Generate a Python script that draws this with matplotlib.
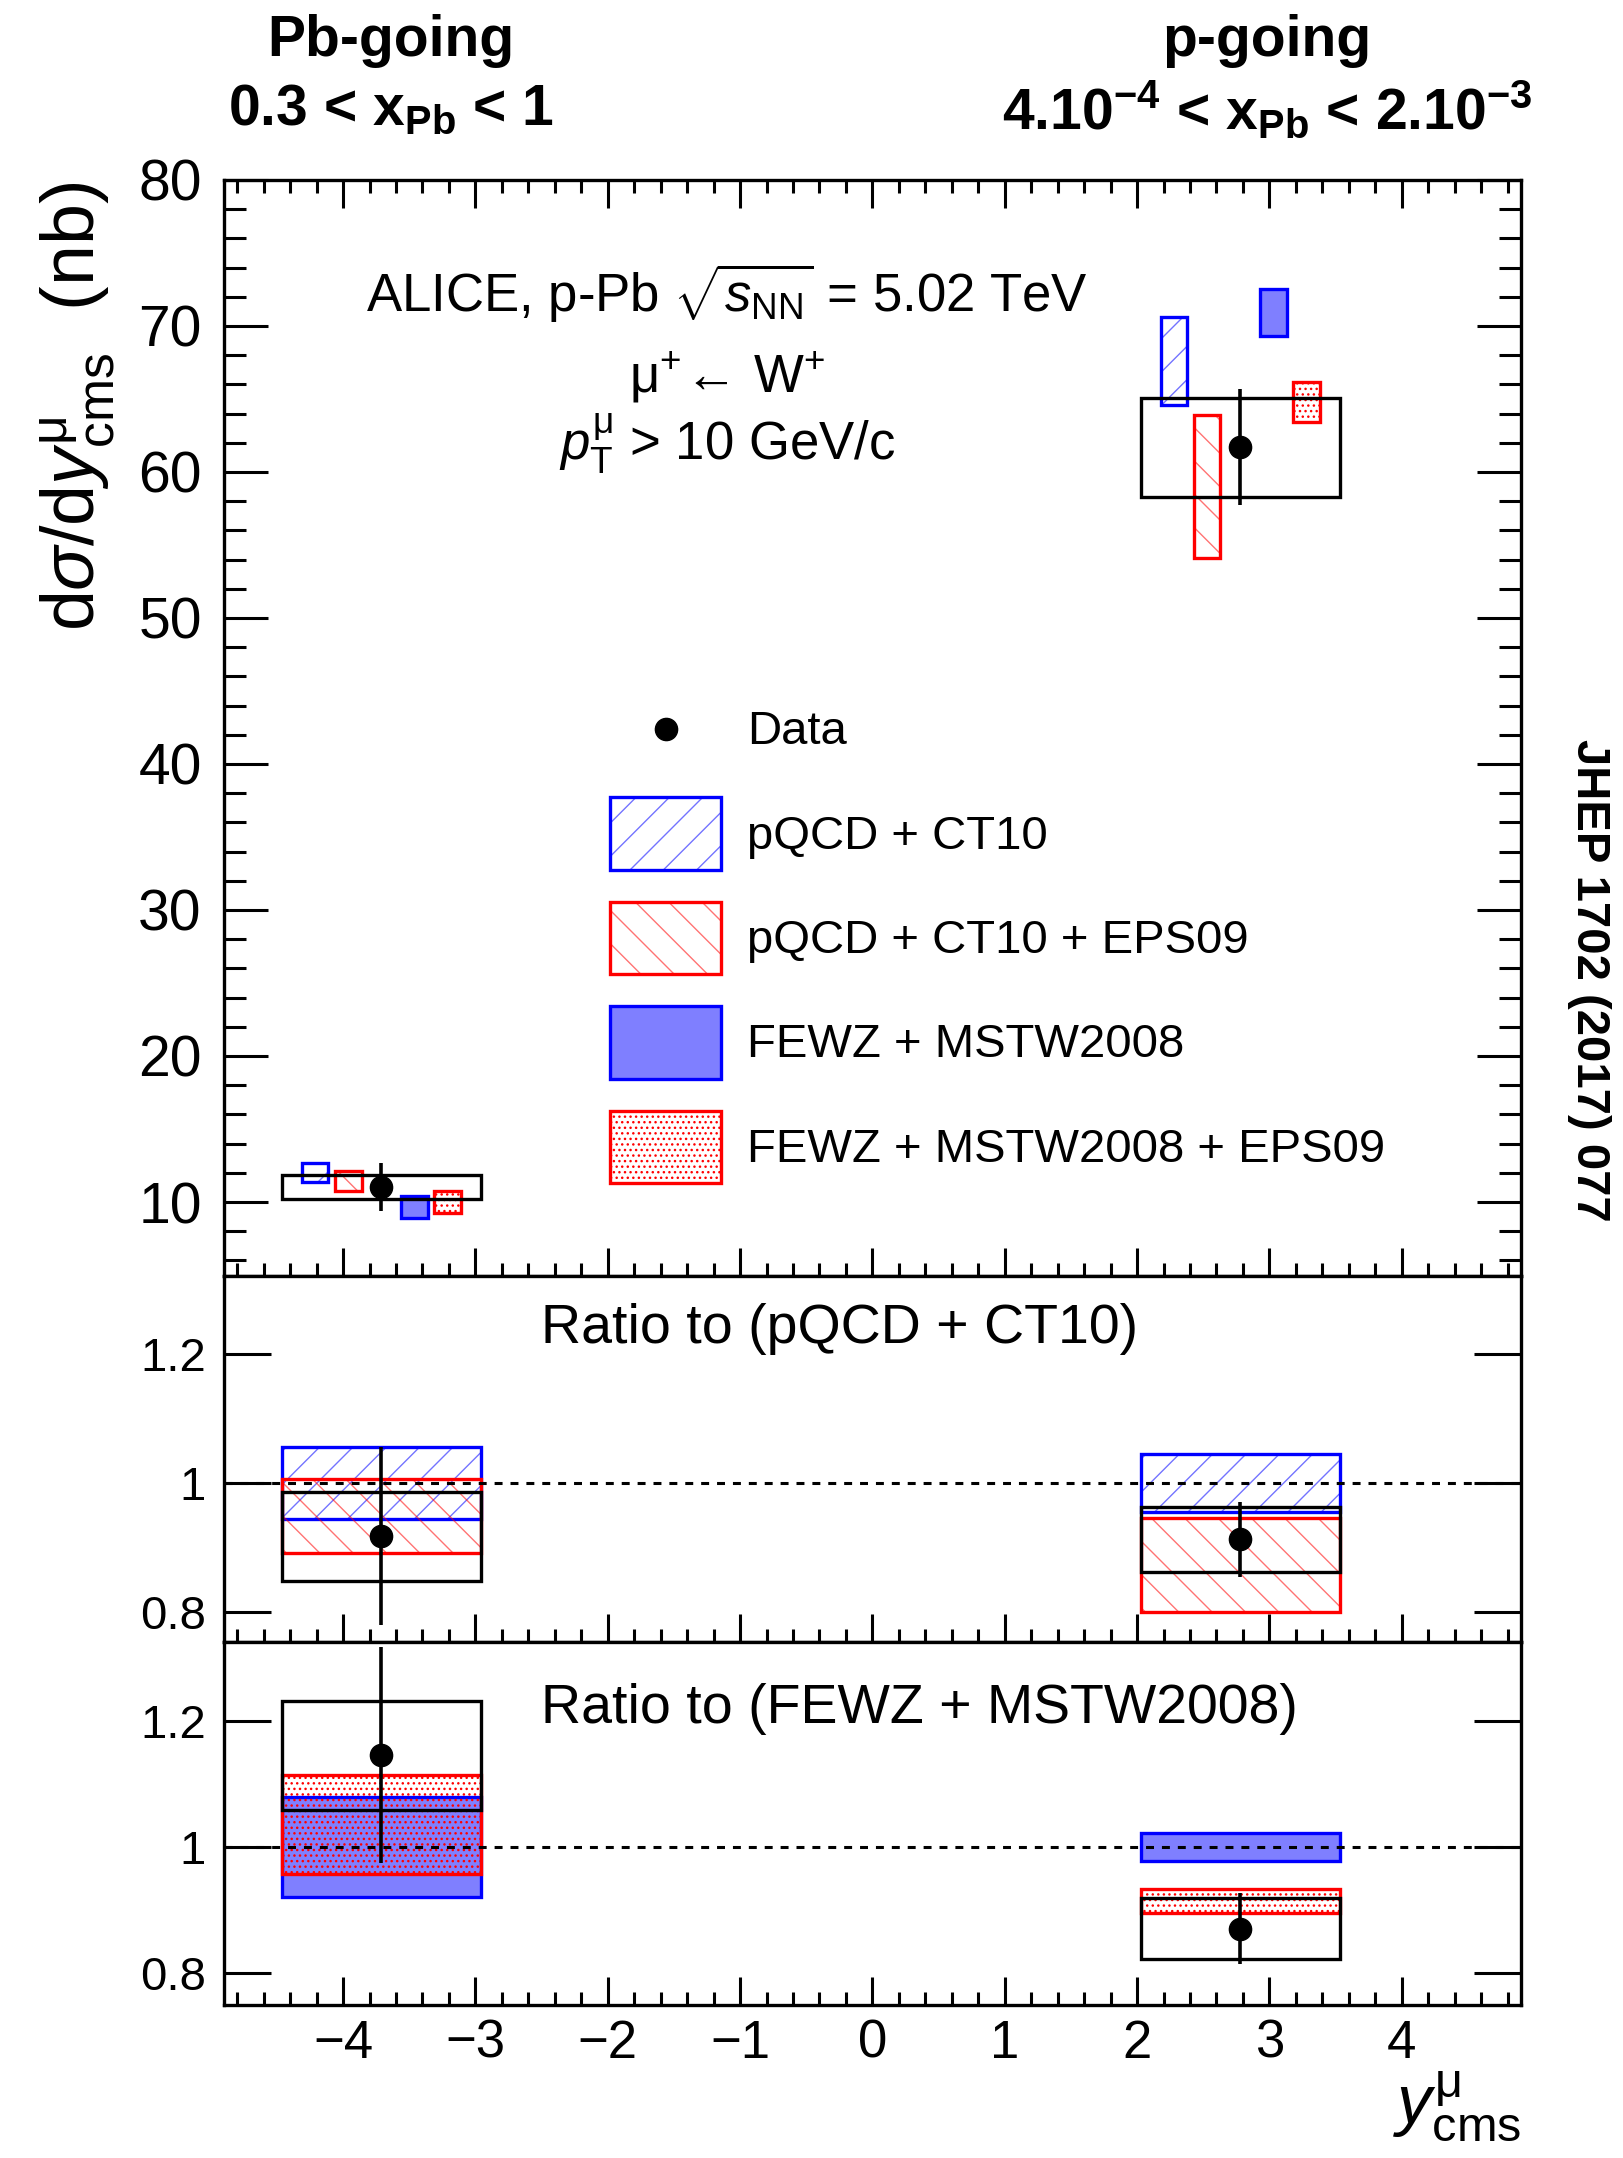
import matplotlib
matplotlib.use('Agg')
import matplotlib.pyplot as plt
from matplotlib.patches import Rectangle
from matplotlib.lines import Line2D
from matplotlib.legend_handler import HandlerBase
from matplotlib.ticker import MultipleLocator, FixedLocator, FuncFormatter

plt.rcParams['font.family'] = ['Liberation Sans', 'DejaVu Sans']
plt.rcParams['mathtext.fontset'] = 'custom'
plt.rcParams['mathtext.rm'] = 'Liberation Sans'
plt.rcParams['mathtext.it'] = 'Liberation Sans:italic'
plt.rcParams['mathtext.bf'] = 'Liberation Sans:bold'
plt.rcParams['hatch.linewidth'] = 1.0

# measured data (nb), backward (Pb-going) and forward (p-going) bins
bin_lo = [-4.46, 2.03]
bin_hi = [-2.96, 3.53]
data_y = [-3.71, 2.78]
data_val = [11.04, 61.7]
data_stat = [1.65, 3.95]
data_syst = [0.83, 3.4]

# model predictions (nb): central value and half-width of the band
ct10_val = [12.03, 67.6]
ct10_err = [0.67, 3.0]
ct10eps_val = [11.42, 59.0]
ct10eps_err = [0.69, 4.9]
fewz_val = [9.64, 70.9]
fewz_err = [0.76, 1.6]
fewzeps_val = [9.98, 64.8]
fewzeps_err = [0.76, 1.38]

legend_labels = ['Data', 'pQCD + CT10', 'pQCD + CT10 + EPS09',
                 'FEWZ + MSTW2008', 'FEWZ + MSTW2008 + EPS09']

models = {
    'ct10': (ct10_val, ct10_err),
    'ct10eps': (ct10eps_val, ct10eps_err),
    'fewz': (fewz_val, fewz_err),
    'fewzeps': (fewzeps_val, fewzeps_err),
}
model_order = ['ct10', 'ct10eps', 'fewz', 'fewzeps']
model_offset = {'ct10': -0.5, 'ct10eps': -0.25, 'fewz': 0.25, 'fewzeps': 0.5}
model_halfwidth = 0.1

styles = {
    'ct10': dict(edge='blue', face='none', hatch='/', hatchcolor=(0, 0, 1, 0.55)),
    'ct10eps': dict(edge='red', face='none', hatch='\\', hatchcolor=(1, 0, 0, 0.55)),
    'fewz': dict(edge='blue', face=(0, 0, 1, 0.5), hatch=None, hatchcolor='none'),
    'fewzeps': dict(edge='red', face='none', hatch='...', hatchcolor=(1, 0, 0, 1)),
}

LW = 2.4


def box_patches(x, y, w, h, style):
    fill = Rectangle((x, y), w, h, facecolor=style['face'], edgecolor=style['hatchcolor'],
                     linewidth=0, hatch=style['hatch'])
    edge = Rectangle((x, y), w, h, fill=False, edgecolor=style['edge'], linewidth=LW)
    return [fill, edge]


def add_box(ax, x0, x1, y0, y1, style, z=2):
    for p in box_patches(x0, y0, x1 - x0, y1 - y0, style):
        p.set_zorder(z)
        ax.add_patch(p)


class BoxKey:
    def __init__(self, style):
        self.style = style


class DotKey:
    pass


class BoxHandler(HandlerBase):
    def create_artists(self, legend, orig_handle, xdescent, ydescent, width, height, fontsize, trans):
        arts = box_patches(-xdescent, -ydescent, width, height, orig_handle.style)
        for a in arts:
            a.set_transform(trans)
        return arts


class DotHandler(HandlerBase):
    def create_artists(self, legend, orig_handle, xdescent, ydescent, width, height, fontsize, trans):
        dot = Line2D([width / 2 - xdescent], [height / 2 - ydescent], marker='o', color='k',
                     ls='none', ms=16)
        dot.set_transform(trans)
        return [dot]


def style_axis(ax, ymajor_len, yminor_len, ylabelsize, ypad):
    ax.set_xlim(-4.9, 4.9)
    ax.xaxis.set_major_locator(MultipleLocator(1))
    ax.xaxis.set_minor_locator(MultipleLocator(0.2))
    ax.tick_params(axis='x', which='major', direction='in', length=20, width=2.2,
                   bottom=True, top=False, labelbottom=False)
    ax.tick_params(axis='x', which='minor', direction='in', length=9.5, width=2.2,
                   bottom=True, top=False)
    ax.tick_params(axis='y', which='major', direction='in', length=ymajor_len, width=2.2,
                   left=True, right=True, labelsize=ylabelsize, pad=ypad)
    ax.tick_params(axis='y', which='minor', direction='in', length=yminor_len, width=2.2,
                   left=True, right=True)
    for sp in ax.spines.values():
        sp.set_linewidth(2.4)


fig = plt.figure(figsize=(16.24, 21.58), dpi=100)
left, width = 0.1379, 0.7986
ax_top = fig.add_axes([left, 0.4087, width, 0.5079])
ax_mid = fig.add_axes([left, 0.2391, width, 0.1696])
ax_bot = fig.add_axes([left, 0.0709, width, 0.1682])

# ---- top panel: cross sections
for i in range(2):
    for key in model_order:
        val, err = models[key]
        xc = data_y[i] + model_offset[key]
        add_box(ax_top, xc - model_halfwidth, xc + model_halfwidth,
                val[i] - err[i], val[i] + err[i], styles[key])
    ax_top.add_patch(Rectangle((bin_lo[i], data_val[i] - data_syst[i]), bin_hi[i] - bin_lo[i],
                               2 * data_syst[i], fill=False, edgecolor='k', linewidth=LW, zorder=3))
ax_top.errorbar(data_y, data_val, yerr=data_stat, fmt='o', color='k', ms=16,
                elinewidth=2.6, capsize=0, zorder=5)

ax_top.set_ylim(4.93, 80)
ax_top.yaxis.set_major_locator(MultipleLocator(10))
ax_top.yaxis.set_minor_locator(MultipleLocator(2))
style_axis(ax_top, 32, 16, 41, 16)
ax_top.tick_params(axis='x', which='both', top=True)

ax_top.text(0.388, 0.897, r'ALICE, p-Pb $\sqrt{s_{\rm NN}}$ = 5.02 TeV', transform=ax_top.transAxes,
            ha='center', va='center', fontsize=38)
ax_top.text(0.388, 0.82, r'$\mathrm{\mu}^{+}\!\leftarrow\!$ W$^{+}$', transform=ax_top.transAxes,
            ha='center', va='center', fontsize=38)
ax_top.text(0.388, 0.759, r'$p^{\mathrm{\mu}}_{\rm T}$ > 10 GeV/c', transform=ax_top.transAxes,
            ha='center', va='center', fontsize=38)

handles = [DotKey()] + [BoxKey(styles[k]) for k in model_order]
ax_top.legend(handles, legend_labels, handler_map={BoxKey: BoxHandler(), DotKey: DotHandler()},
              loc='upper left', bbox_to_anchor=(0.298, 0.532), frameon=False, fontsize=34,
              handlelength=2.34, handleheight=1.98, labelspacing=0.68, handletextpad=0.55,
              borderpad=0, borderaxespad=0)


# ---- ratio panels
def ratio_panel(ax, ref_key, keys, title, title_y, ylim):
    ref = models[ref_key][0]
    for key in keys:
        val, err = models[key]
        for i in range(2):
            add_box(ax, bin_lo[i], bin_hi[i], (val[i] - err[i]) / ref[i],
                    (val[i] + err[i]) / ref[i], styles[key])
    for i in range(2):
        ax.add_patch(Rectangle((bin_lo[i], (data_val[i] - data_syst[i]) / ref[i]),
                               bin_hi[i] - bin_lo[i], 2 * data_syst[i] / ref[i],
                               fill=False, edgecolor='k', linewidth=LW, zorder=3))
    ratio = [data_val[i] / ref[i] for i in range(2)]
    ratio_err = [data_stat[i] / ref[i] for i in range(2)]
    ax.errorbar(data_y, ratio, yerr=ratio_err, fmt='o', color='k', ms=16,
                elinewidth=2.6, capsize=0, zorder=5)
    ax.axhline(1, color='k', lw=2.2, ls=(0, (2.6, 2.6)), zorder=4)
    ax.set_ylim(*ylim)
    ax.yaxis.set_major_locator(FixedLocator([0.8, 1.0, 1.2]))
    ax.yaxis.set_major_formatter(FuncFormatter(lambda v, p: '%g' % v))
    style_axis(ax, 34, 0, 34, 13)
    ax.text(0.2445, title_y, title, transform=ax.transAxes, ha='left', va='center', fontsize=40)


ratio_panel(ax_mid, 'ct10', ['ct10', 'ct10eps'], 'Ratio to (pQCD + CT10)', 0.855, (0.754, 1.32))
ratio_panel(ax_bot, 'fewz', ['fewz', 'fewzeps'], 'Ratio to (FEWZ + MSTW2008)', 0.815, (0.749, 1.325))
ax_bot.tick_params(axis='x', which='major', labelbottom=True, labelsize=38, pad=10)

# axis titles
fig.text(78 / 1624, 1 - 182 / 2158, r'd$\sigma$/d$y^{\mathrm{\mu}}_{\rm cms}$  (nb)',
         rotation=90, ha='center', va='top', fontsize=53)
ax_bot.text(1.0, -0.18, r'$y^{\mathrm{\mu}}_{\rm cms}$', transform=ax_bot.transAxes,
            ha='right', va='top', fontsize=50)

# headers
fig.text(391 / 1624, 1 - 41 / 2158, 'Pb-going', ha='center', va='center', fontsize=41, fontweight='bold')
fig.text(391 / 1624, 1 - 110 / 2158, r'0.3 < x$_{\mathbf{Pb}}$ < 1', ha='center', va='center',
         fontsize=41, fontweight='bold')
fig.text(1267 / 1624, 1 - 41 / 2158, 'p-going', ha='center', va='center', fontsize=41, fontweight='bold')
fig.text(1267 / 1624, 1 - 110 / 2158, r'4.10$^{\mathbf{-4}}$ < x$_{\mathbf{Pb}}$ < 2.10$^{\mathbf{-3}}$',
         ha='center', va='center', fontsize=41, fontweight='bold')

fig.text(1589 / 1624, 1 - 980 / 2158, 'JHEP 1702 (2017) 077', rotation=-90,
         ha='center', va='center', fontsize=34, fontweight='bold')

fig.savefig('out.png', dpi=100)
